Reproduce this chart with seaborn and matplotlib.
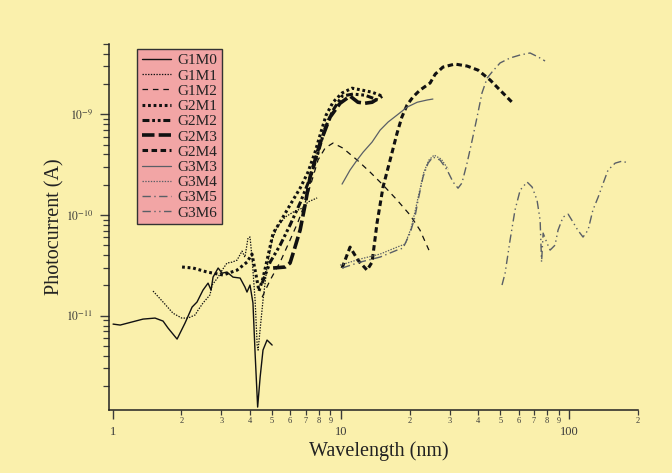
import matplotlib
matplotlib.use("Agg")
import matplotlib.pyplot as plt
import matplotlib.ticker as mticker
import seaborn as sns
import numpy as np

# wavelength (nm) / photocurrent (A) for each grating-mirror pair
g1m0_wl = [1.005, 1.08, 1.36, 1.535, 1.664, 1.75, 1.917, 2.077, 2.23, 2.344, 2.49, 2.62, 2.70, 2.755,
           2.90, 3.02, 3.17, 3.37, 3.62, 3.80, 3.88, 4.00, 4.12, 4.21, 4.32, 4.43, 4.56, 4.75, 5.00]
g1m0_pc = [8.27e-12, 8.09e-12, 9.27e-12, 9.49e-12, 8.86e-12, 7.55e-12, 5.87e-12, 8.47e-12, 1.22e-11,
           1.37e-11, 1.80e-11, 2.11e-11, 1.80e-11, 2.42e-11, 2.98e-11, 2.65e-11, 2.72e-11, 2.42e-11,
           2.37e-11, 1.93e-11, 1.72e-11, 2.02e-11, 1.34e-11, 4.27e-12, 1.24e-12, 2.46e-12, 4.57e-12,
           5.74e-12, 5.12e-12]

g1m1_wl = [1.504, 1.664, 1.84, 2.01, 2.14, 2.30, 2.37, 2.49, 2.67, 2.73, 2.90, 3.02, 3.17, 3.34, 3.51,
           3.69, 3.80, 3.92, 4.00, 4.08, 4.21, 4.30, 4.34, 4.47, 4.56, 4.75, 5.00, 5.26, 5.70, 6.18,
           6.76, 7.18, 7.87]
g1m1_pc = [1.76e-11, 1.37e-11, 1.06e-11, 9.49e-12, 9.49e-12, 1.02e-11, 1.14e-11, 1.34e-11, 1.61e-11,
           2.02e-11, 2.42e-11, 2.84e-11, 3.34e-11, 3.41e-11, 3.57e-11, 4.39e-11, 3.82e-11, 5.92e-11,
           6.06e-11, 3.82e-11, 1.43e-11, 5.12e-12, 4.56e-12, 9.06e-12, 1.43e-11, 3.05e-11, 5.65e-11,
           7.6e-11, 9.55e-11, 1.07e-10, 1.17e-10, 1.35e-10, 1.48e-10]

g1m2_wl = [4.52, 4.90, 5.42, 5.99, 6.49, 7.04, 7.48, 7.94, 8.53, 9.24, 10.2, 11.78, 13.43, 15.3,
           17.63, 20.1, 22.2, 24.3]
g1m2_pc = [1.53e-11, 2.26e-11, 3.41e-11, 5.65e-11, 8.53e-11, 1.41e-10, 2.23e-10, 3.52e-10, 4.63e-10,
           5.19e-10, 4.63e-10, 3.52e-10, 2.67e-10, 1.99e-10, 1.41e-10, 1.00e-10, 7.1e-11, 4.49e-11]

g2m1_wl = [2.016, 2.252, 2.594, 3.05, 3.51, 3.88, 4.08, 4.25, 4.38, 4.56, 4.75, 5.05, 5.42, 5.99, 6.63,
           7.18, 7.71, 8.11, 8.62, 9.24, 10.12, 11.19, 12.4, 13.7, 15.15]
g2m1_pc = [3.05e-11, 2.98e-11, 2.72e-11, 2.54e-11, 2.84e-11, 3.41e-11, 4.10e-11, 2.54e-11, 1.76e-11,
           2.37e-11, 3.57e-11, 6.62e-11, 8.53e-11, 1.26e-10, 1.85e-10, 2.67e-10, 4.22e-10, 6.24e-10,
           9.85e-10, 1.32e-09, 1.63e-09, 1.82e-09, 1.74e-09, 1.66e-09, 1.52e-09]

g2m2_wl = [4.52, 4.90, 5.42, 5.99, 6.63, 7.33, 7.94, 8.53, 9.24, 10.12, 11.3, 12.76, 14.5]
g2m2_pc = [2.11e-11, 3.41e-11, 5.03e-11, 7.96e-11, 1.32e-10, 2.33e-10, 4.13e-10, 7.31e-10, 1.10e-09,
           1.52e-09, 1.59e-09, 1.55e-09, 1.39e-09]

g2m3_wl = [5.05, 5.70, 5.99, 6.24, 6.63, 6.97, 7.33, 8.11, 8.97, 9.92, 10.97, 11.88, 12.76, 13.7, 15.15]
g2m3_pc = [2.98e-11, 3.05e-11, 3.34e-11, 4.49e-11, 7.1e-11, 1.26e-10, 2.38e-10, 5.19e-10, 9.4e-10,
           1.29e-09, 1.52e-09, 1.32e-09, 1.29e-09, 1.32e-09, 1.52e-09]

g2m4_wl = [10.12, 10.97, 11.88, 13.02, 13.70, 14.40, 15.3, 16.43, 17.63, 18.5, 19.5, 20.7, 22.2, 24.6,
           25.9, 28.0, 31.6, 35.7, 39.9, 45.1, 49.8, 56.2]
g2m4_pc = [2.98e-11, 4.81e-11, 3.57e-11, 2.84e-11, 3.41e-11, 8.33e-11, 1.90e-10, 3.52e-10, 6.52e-10,
           9.4e-10, 1.24e-09, 1.49e-09, 1.74e-09, 2.05e-09, 2.51e-09, 2.95e-09, 3.16e-09, 3.02e-09,
           2.75e-09, 2.19e-09, 1.74e-09, 1.32e-09]

g3m3_wl = [10.12, 10.97, 11.78, 12.52, 13.70, 14.86, 16.1, 17.63, 19.5, 21.6, 23.9, 25.3]
g3m3_pc = [2.03e-10, 2.80e-10, 3.52e-10, 4.22e-10, 5.31e-10, 6.98e-10, 8.39e-10, 9.85e-10, 1.18e-09,
           1.32e-09, 1.39e-09, 1.42e-09]

g3m4_wl = [9.92, 12.14, 14.86, 17.63, 19.1, 20.3, 21.1, 22.0, 23.1, 24.3, 25.6, 27.5, 29.5]
g3m4_pc = [3.18e-11, 3.66e-11, 4.10e-11, 4.81e-11, 5.15e-11, 7.4e-11, 1.07e-10, 1.65e-10, 2.67e-10,
           3.52e-10, 3.94e-10, 3.60e-10, 2.86e-10]

g3m5_wl = [10.12, 12.14, 14.86, 17.63, 18.72, 20.1, 21.1, 21.8, 22.9, 24.1, 25.3, 27.2, 29.2, 31.0,
           32.6, 33.9, 35.7, 37.6, 39.5, 41.5, 43.7, 45.9, 49.8, 55.1, 61.0, 67.4, 73.1, 78.4]
g3m5_pc = [2.98e-11, 3.41e-11, 3.83e-11, 4.49e-11, 4.70e-11, 6.62e-11, 9.55e-11, 1.41e-10, 2.39e-10,
           3.28e-10, 3.77e-10, 3.52e-10, 2.80e-10, 2.13e-10, 1.85e-10, 2.08e-10, 3.28e-10, 5.55e-10,
           9.4e-10, 1.63e-09, 2.29e-09, 2.63e-09, 3.24e-09, 3.63e-09, 3.89e-09, 4.07e-09, 3.72e-09,
           3.39e-09]

g3m6_wl = [50.8, 52.4, 55.1, 57.9, 61.0, 65.4, 68.8, 72.3, 74.6, 75.7, 76.9, 80.0, 82.5, 86.7, 89.4,
           94.0, 99.0, 104, 109, 115, 121, 127, 134, 141, 148, 159, 171, 181]
g3m6_pc = [2.02e-11, 2.65e-11, 5.65e-11, 1.12e-10, 1.77e-10, 2.13e-10, 1.90e-10, 1.41e-10, 8.9e-11,
           3.41e-11, 6.62e-11, 5.26e-11, 4.49e-11, 5.03e-11, 7.1e-11, 9.55e-11, 1.02e-10, 8.5e-11,
           7.1e-11, 6.05e-11, 7.1e-11, 1.12e-10, 1.51e-10, 2.08e-10, 2.80e-10, 3.28e-10, 3.44e-10,
           3.28e-10]

series_names = ["G1M0", "G1M1", "G1M2", "G2M1", "G2M2", "G2M3", "G2M4", "G3M3", "G3M4", "G3M5", "G3M6"]
series_data = {
    "G1M0": (g1m0_wl, g1m0_pc), "G1M1": (g1m1_wl, g1m1_pc), "G1M2": (g1m2_wl, g1m2_pc),
    "G2M1": (g2m1_wl, g2m1_pc), "G2M2": (g2m2_wl, g2m2_pc), "G2M3": (g2m3_wl, g2m3_pc),
    "G2M4": (g2m4_wl, g2m4_pc), "G3M3": (g3m3_wl, g3m3_pc), "G3M4": (g3m4_wl, g3m4_pc),
    "G3M5": (g3m5_wl, g3m5_pc), "G3M6": (g3m6_wl, g3m6_pc),
}

# colour, line width, dash pattern (points, unscaled)
black = "#111111"
grey = "#5a5f66"
styles = {
    "G1M0": (black, 1.0, "-"),
    "G1M1": (black, 0.9, (0, (1, 1))),
    "G1M2": (black, 0.9, (0, (4, 3.5))),
    "G2M1": (black, 2.2, (0, (2, 2))),
    "G2M2": (black, 2.2, (0, (5, 2, 2, 2, 2, 2))),
    "G2M3": (black, 2.6, (0, (9, 3))),
    "G2M4": (black, 2.2, (0, (4, 2.5))),
    "G3M3": (grey, 0.9, "-"),
    "G3M4": (grey, 0.9, (0, (1, 1))),
    "G3M5": (grey, 1.0, (0, (6, 2.5, 1, 2.5))),
    "G3M6": (grey, 1.0, (0, (6, 2.5, 1, 2.5, 1, 2.5))),
}

bg = "#FAF0AC"
sns.set_style("ticks")
plt.rcParams["font.family"] = ["Liberation Serif", "DejaVu Serif"]
plt.rcParams["mathtext.fontset"] = "stix"
plt.rcParams["lines.scale_dashes"] = False

fig = plt.figure(figsize=(6.72, 4.73), dpi=100, facecolor=bg)
ax = fig.add_axes([0.1627, 0.1332, 0.7873, 0.7738])
ax.set_facecolor(bg)

for name in series_names:
    wl, pc = series_data[name]
    color, lw, ls = styles[name]
    sns.lineplot(x=wl, y=pc, ax=ax, color=color, linewidth=lw, linestyle=ls,
                 label=name, sort=False, estimator=None)

ax.set_xscale("log")
ax.set_yscale("log")
ax.set_xlim(0.968, 201)
ax.set_ylim(1.16e-12, 5.0e-9)

# x axis: decades labelled large, intermediate ticks labelled small
ax.xaxis.set_major_locator(mticker.FixedLocator([1, 10, 100]))
ax.xaxis.set_major_formatter(mticker.FixedFormatter(["1", "10", "100"]))
minor_x = [m * d for d in (1, 10, 100) for m in range(2, 10) if m * d <= 200]
ax.xaxis.set_minor_locator(mticker.FixedLocator(minor_x))
ax.xaxis.set_minor_formatter(mticker.FixedFormatter([str(int(v / 10 ** np.floor(np.log10(v)))) for v in minor_x]))

ax.yaxis.set_major_locator(mticker.FixedLocator([1e-11, 1e-10, 1e-9]))
ax.yaxis.set_major_formatter(mticker.FuncFormatter(lambda v, p: r"$10^{%d}$" % round(np.log10(v))))
ax.yaxis.set_minor_locator(mticker.LogLocator(base=10, subs=np.arange(2, 10), numticks=20))
ax.yaxis.set_minor_formatter(mticker.NullFormatter())

tick_col = "#3a3a3a"
ax.tick_params(axis="x", which="major", length=6.5, width=1.0, pad=5, labelsize=9, colors=tick_col)
ax.tick_params(axis="x", which="minor", length=3.6, width=0.9, pad=1.5, labelsize=6, colors=tick_col)
ax.tick_params(axis="y", which="major", length=6.5, width=1.0, pad=5, labelsize=8.5, colors=tick_col)
ax.tick_params(axis="y", which="minor", length=4, width=0.9, colors=tick_col)

sns.despine(ax=ax)
for side in ("left", "bottom"):
    ax.spines[side].set_color("#222222")
    ax.spines[side].set_linewidth(1.1)

ax.set_xlabel("Wavelength (nm)", fontsize=14.5, color="#222222", labelpad=1)
ax.xaxis.set_label_coords(0.51, -0.085)
ax.set_ylabel("Photocurrent (A)", fontsize=14.5, color="#222222", labelpad=1)

leg = ax.legend(loc="upper left", bbox_to_anchor=(0.053, 0.986), borderaxespad=0,
                fontsize=11, labelspacing=0.1, handlelength=1.9, handletextpad=0.45,
                borderpad=0.3, frameon=True, fancybox=False)
frame = leg.get_frame()
frame.set_facecolor("#F2A5A5")
frame.set_edgecolor("#333333")
frame.set_linewidth(1.0)
frame.set_alpha(1.0)
for t in leg.get_texts():
    t.set_color("#222222")

fig.savefig("out.png", dpi=100, facecolor=bg)
